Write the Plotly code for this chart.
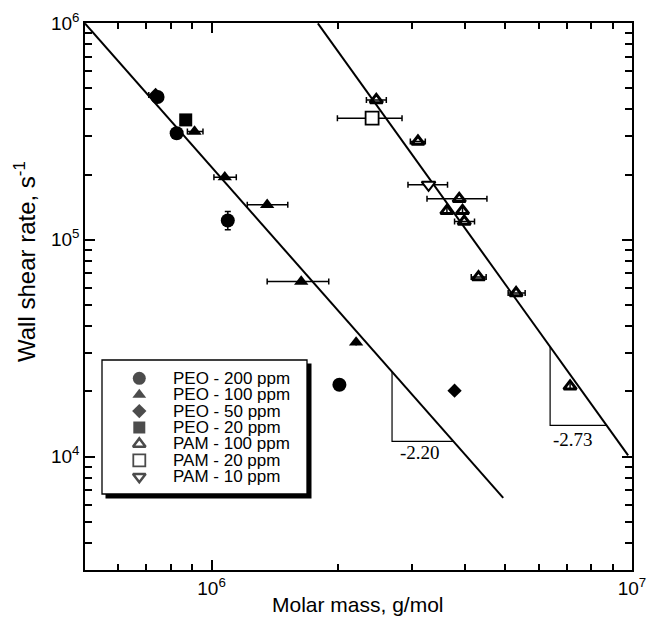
import numpy as np
import plotly.graph_objects as go

# ---------------- data ----------------
peo200_M = [7.44e5, 8.26e5, 1.093e6, 2.014e6]
peo200_rate = [4.56e5, 3.10e5, 1.227e5, 2.147e4]
peo200_rate_lo = [None, None, 1.112e5, None]
peo200_rate_hi = [None, None, 1.35e5, None]

peo100_M = [9.11e5, 1.075e6, 1.356e6, 1.634e6, 2.207e6]
peo100_rate = [3.155e5, 1.945e5, 1.45e5, 6.42e4, 3.363e4]
peo100_M_lo = [8.76e5, 1.013e6, 1.216e6, 1.356e6, None]
peo100_M_hi = [9.54e5, 1.145e6, 1.518e6, 1.90e6, None]

peo50_M = [7.36e5, 3.784e6]
peo50_rate = [4.66e5, 2.014e4]
peo50_M_lo = [7.09e5, None]
peo50_M_hi = [7.60e5, None]

peo20_M = [8.68e5]
peo20_rate = [3.573e5]

pam100_M = [2.465e6, 3.097e6, 3.882e6, 3.629e6, 3.953e6, 3.99e6, 4.314e6, 5.30e6, 7.124e6]
pam100_rate = [4.42e5, 2.84e5, 1.545e5, 1.36e5, 1.36e5, 1.214e5, 6.73e4, 5.68e4, 2.109e4]
pam100_M_lo = [2.335e6, 2.97e6, 3.254e6, None, None, 3.784e6, 4.146e6, 5.075e6, None]
pam100_M_hi = [2.604e6, 3.224e6, 4.518e6, None, None, 4.221e6, 4.499e6, 5.57e6, None]

pam20_M = [2.409e6]
pam20_rate = [3.64e5]
pam20_M_lo = [1.992e6]
pam20_M_hi = [2.838e6]

pam10_M = [3.282e6]
pam10_rate = [1.793e5]
pam10_M_lo = [2.932e6]
pam10_M_hi = [3.641e6]

# power-law fits: rate = 10**logA * M**exponent
peo_fit_logA = 18.5356
peo_fit_exp = -2.20
peo_fit_M = [5.0e5, 4.94e6]
pam_fit_logA = 22.881
pam_fit_exp = -2.70
pam_fit_M = [1.79e6, 9.79e6]

# slope triangles: (left x, bottom y) and labels
peo_tri = (2.687e6, 1.1765e4)
pam_tri = (6.386e6, 1.394e4)
peo_tri_label = ("-2.20", 3.136e6, 1.043e4)
pam_tri_label = ("-2.73", 7.255e6, 1.198e4)

legend_labels = ["PEO - 200 ppm", "PEO - 100 ppm", "PEO - 50 ppm", "PEO - 20 ppm",
                 "PAM - 100 ppm", "PAM - 20 ppm", "PAM - 10 ppm"]

x_major = [1e6, 1e7]
x_major_text = ["10<sup>6</sup>", "10<sup>7</sup>"]
y_major = [1e4, 1e5, 1e6]
y_major_text = ["10<sup>4</sup>", "10<sup>5</sup>", "10<sup>6</sup>"]

# ---------------- helpers ----------------
FONT = "Liberation Sans"
W, H = 647, 626
ML, MR, MT, MB = 85, 15, 23, 56
PW, PH = W - ML - MR, H - MT - MB


def px(xp):
    return (xp - ML) / PW


def py(yp):
    return (H - MB - yp) / PH


def err_plus(v, hi):
    return [None if h is None else h - a for a, h in zip(v, hi)]


def err_minus(v, lo):
    return [None if l is None else a - l for a, l in zip(v, lo)]


def fit(logA, e, M):
    return [10 ** (logA + e * np.log10(m)) for m in M]


def fit_x_at(logA, e, y):
    return 10 ** ((np.log10(y) - logA) / e)


fig = go.Figure()

ebx = dict(type="data", symmetric=False, color="black", thickness=1.5, width=3)

# fit lines
fig.add_trace(go.Scatter(x=peo_fit_M, y=fit(peo_fit_logA, peo_fit_exp, peo_fit_M),
                         mode="lines", line=dict(color="black", width=2), showlegend=False))
fig.add_trace(go.Scatter(x=pam_fit_M, y=fit(pam_fit_logA, pam_fit_exp, pam_fit_M),
                         mode="lines", line=dict(color="black", width=2), showlegend=False))

# slope triangles
for (xl, yb), (logA, e) in [(peo_tri, (peo_fit_logA, peo_fit_exp)),
                            (pam_tri, (pam_fit_logA, pam_fit_exp))]:
    ytop = fit(logA, e, [xl])[0]
    xr = fit_x_at(logA, e, yb)
    fig.add_trace(go.Scatter(x=[xl, xl, xr], y=[ytop, yb, yb], mode="lines",
                             line=dict(color="black", width=1.2), showlegend=False))

# data series
fig.add_trace(go.Scatter(x=peo200_M, y=peo200_rate, mode="markers",
                         marker=dict(symbol="circle", size=14, color="black"),
                         error_y=dict(type="data", symmetric=False, color="black", thickness=1.5, width=3,
                                      array=err_plus(peo200_rate, peo200_rate_hi),
                                      arrayminus=err_minus(peo200_rate, peo200_rate_lo)),
                         showlegend=False))
fig.add_trace(go.Scatter(x=peo100_M, y=peo100_rate, mode="markers",
                         marker=dict(symbol="triangle-up", size=12.5, color="black"),
                         error_x=dict(ebx, array=err_plus(peo100_M, peo100_M_hi),
                                      arrayminus=err_minus(peo100_M, peo100_M_lo)),
                         showlegend=False))
fig.add_trace(go.Scatter(x=peo50_M, y=peo50_rate, mode="markers",
                         marker=dict(symbol="diamond", size=11, color="black"),
                         error_x=dict(ebx, array=err_plus(peo50_M, peo50_M_hi),
                                      arrayminus=err_minus(peo50_M, peo50_M_lo)),
                         showlegend=False))
fig.add_trace(go.Scatter(x=peo20_M, y=peo20_rate, mode="markers",
                         marker=dict(symbol="square", size=13, color="black"),
                         showlegend=False))
fig.add_trace(go.Scatter(x=pam100_M, y=pam100_rate, mode="markers",
                         marker=dict(symbol="triangle-up-open", size=11, color="black",
                                     line=dict(width=3, color="black")),
                         error_x=dict(ebx, array=err_plus(pam100_M, pam100_M_hi),
                                      arrayminus=err_minus(pam100_M, pam100_M_lo)),
                         showlegend=False))
fig.add_trace(go.Scatter(x=pam20_M, y=pam20_rate, mode="markers",
                         marker=dict(symbol="square", size=13, color="white",
                                     line=dict(width=1.8, color="black")),
                         error_x=dict(ebx, array=err_plus(pam20_M, pam20_M_hi),
                                      arrayminus=err_minus(pam20_M, pam20_M_lo)),
                         showlegend=False))
fig.add_trace(go.Scatter(x=pam10_M, y=pam10_rate, mode="markers",
                         marker=dict(symbol="triangle-down", size=12, color="white",
                                     line=dict(width=2, color="black")),
                         error_x=dict(ebx, array=err_plus(pam10_M, pam10_M_hi),
                                      arrayminus=err_minus(pam10_M, pam10_M_lo)),
                         showlegend=False))

# ---------------- manual legend ----------------
leg_row0, leg_dy = 378.3, 16.4
leg_rows = [py(leg_row0 + i * leg_dy) for i in range(len(legend_labels))]
leg_sym = ["circle", "triangle-up", "diamond", "square", "triangle-up", "square", "triangle-down"]
leg_fill = ["black", "black", "black", "black", "white", "white", "white"]
leg_size = [13, 12, 11, 12, 11, 12, 11]
fig.add_trace(go.Scatter(x=[px(139.3)] * len(legend_labels), y=leg_rows, mode="markers",
                         marker=dict(symbol=leg_sym, size=leg_size, color=leg_fill,
                                     line=dict(width=[0, 0, 0, 0, 2.5, 1.8, 2.5], color="black")),
                         xaxis="x2", yaxis="y2", showlegend=False, hoverinfo="skip"))

shapes = [
    dict(type="rect", xref="paper", yref="paper", x0=px(105.5), x1=px(311.5), y0=py(363.5), y1=py(498.5),
         fillcolor="black", line=dict(width=0), layer="below"),
    dict(type="rect", xref="paper", yref="paper", x0=px(102), x1=px(307), y0=py(360), y1=py(494),
         fillcolor="white", line=dict(width=1.3, color="black"), layer="below"),
]

annotations = []
for lab, yy in zip(legend_labels, leg_rows):
    annotations.append(dict(xref="paper", yref="paper", x=px(170.5), y=yy, text=lab, showarrow=False,
                            xanchor="left", yanchor="middle",
                            font=dict(family=FONT, size=17, color="black")))
for lab, lx, ly in [peo_tri_label, pam_tri_label]:
    annotations.append(dict(xref="x", yref="y", x=np.log10(lx), y=np.log10(ly), text=lab,
                            showarrow=False, xanchor="center", yanchor="middle",
                            font=dict(family="Liberation Serif", size=19, color="black")))
annotations.append(dict(xref="paper", yref="paper", x=px(358), y=py(604), text="Molar mass, g/mol",
                        showarrow=False, xanchor="center", yanchor="middle",
                        font=dict(family=FONT, size=21, color="black")))
annotations.append(dict(xref="paper", yref="paper", x=px(25), y=py(262), text="Wall shear rate, s<sup>-1</sup>",
                        showarrow=False, xanchor="center", yanchor="middle", textangle=-90,
                        font=dict(family=FONT, size=24, color="black")))

x_minor = [m * 10 ** d for d in (5, 6) for m in range(2, 10) if 5e5 < m * 10 ** d < 1e7]
y_minor = [m * 10 ** d for d in (3, 4, 5) for m in range(2, 10) if 3.0e3 < m * 10 ** d < 1e6]

axis_common = dict(type="log", showgrid=False, zeroline=False, showline=True, linecolor="black",
                   linewidth=1.5, mirror="allticks", ticks="inside", ticklen=10, tickwidth=1.5,
                   tickcolor="black", automargin=False,
                   tickfont=dict(family=FONT, size=19, color="black"))

fig.update_layout(
    template="none",
    width=W, height=H,
    margin=dict(l=ML, r=MR, t=MT, b=MB, autoexpand=False),
    plot_bgcolor="white", paper_bgcolor="white",
    font=dict(family=FONT, color="black"),
    xaxis=dict(axis_common, range=[np.log10(5e5), 7], tickvals=x_major, ticktext=x_major_text,
               minor=dict(tickvals=x_minor, ticks="inside", ticklen=6, tickwidth=1.5, tickcolor="black")),
    yaxis=dict(axis_common, range=[np.log10(3.0e3), 6], tickvals=y_major, ticktext=y_major_text,
               minor=dict(tickvals=y_minor, ticks="inside", ticklen=7, tickwidth=1.5, tickcolor="black")),
    xaxis2=dict(overlaying="x", range=[0, 1], visible=False, automargin=False),
    yaxis2=dict(overlaying="y", range=[0, 1], visible=False, automargin=False),
    shapes=shapes,
    annotations=annotations,
)

fig.write_html("out.html")
